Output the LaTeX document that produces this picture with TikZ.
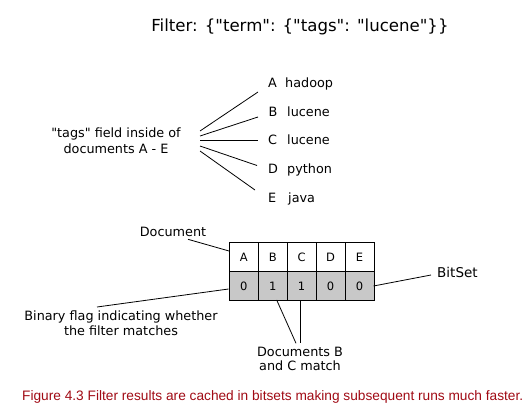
\documentclass[tikz,border=0pt]{standalone}
\usepackage{fontspec}
\setmainfont{DejaVu Sans}[Ligatures=TeXOff]
\newfontfamily\capfont{Liberation Sans}
\definecolor{captred}{RGB}{160,10,20}
\definecolor{flaggray}{RGB}{200,200,200}
\begin{document}
\begin{tikzpicture}[x=1pt,y=-1pt,
  lbl/.style={inner sep=0pt,font=\fontsize{12.8}{16}\selectfont},
  cell/.style={draw=black,line width=0.8pt,minimum width=28.9pt,minimum height=29pt,inner sep=0pt,anchor=north west,font=\fontsize{11.5}{13}\selectfont},
  conn/.style={draw=black,line width=0.8pt}]
\useasboundingbox (0,0) rectangle (532,407);
% title
\node[inner sep=0pt,anchor=base,font=\fontsize{16.6}{20}\selectfont] (title) at (300,31) {Filter: \{"term": \{"tags": "lucene"\}\}};
% tags label
\node[lbl,anchor=base,align=center,font=\fontsize{12.8}{16}\selectfont] (tags) at (116,153) {"tags" field inside of\\documents A - E};
% doc letters and values
\node[lbl,anchor=base west] (lA) at (268,87) {A};
\node[lbl,anchor=base west] (vA) at (285,87) {hadoop};
\node[lbl,anchor=base west] (lB) at (268.5,116) {B};
\node[lbl,anchor=base west] (vB) at (287,116) {lucene};
\node[lbl,anchor=base west] (lC) at (268,144.5) {C};
\node[lbl,anchor=base west] (vC) at (287,144.5) {lucene};
\node[lbl,anchor=base west] (lD) at (268,173) {D};
\node[lbl,anchor=base west] (vD) at (287,173) {python};
\node[lbl,anchor=base west] (lE) at (268,202) {E};
\node[lbl,anchor=base west] (vE) at (288,202) {java};
\coordinate (s1) at (200,131); \coordinate (e1) at (258,92);
\coordinate (s2) at (200,136); \coordinate (e2) at (258,117);
\coordinate (s3) at (200,140.5); \coordinate (e3) at (258,140.5);
\coordinate (s4) at (200,146); \coordinate (e4) at (257,165.5);
\coordinate (s5) at (200,151); \coordinate (e5) at (255,190);
\foreach \i in {1,...,5} {\draw[conn] (s\i) -- (e\i);}
% table
\node[cell,fill=white] (cA) at (229,242) {A};
\node[cell,fill=white] (cB) at (257.9,242) {B};
\node[cell,fill=white] (cC) at (286.8,242) {C};
\node[cell,fill=white] (cD) at (315.7,242) {D};
\node[cell,fill=white] (cE) at (344.6,242) {E};
\node[cell,fill=flaggray] (fA) at (229,271) {0};
\node[cell,fill=flaggray] (fB) at (257.9,271) {1};
\node[cell,fill=flaggray] (fC) at (286.8,271) {1};
\node[cell,fill=flaggray] (fD) at (315.7,271) {0};
\node[cell,fill=flaggray] (fE) at (344.6,271) {0};
% Document label
\node[lbl,anchor=base] (doc) at (173,236.7) {Document};
\coordinate (d1) at (188,239.3);
\coordinate (d2) at (229,251);
\draw[conn] (d1) -- (d2);
% BitSet
\node[lbl,anchor=base west,font=\fontsize{13.5}{16}\selectfont] (bits) at (437,277) {BitSet};
\coordinate (b1) at (373.5,286);
\coordinate (b2) at (431,275);
\draw[conn] (b1) -- (b2);
% Binary flag
\node[lbl,anchor=base,align=center,font=\fontsize{12.8}{15}\selectfont] (flag) at (121,335) {Binary flag indicating whether\\the filter matches};
\coordinate (f1) at (228.5,289);
\coordinate (f2) at (97,307);
\draw[conn] (f1) -- (f2);
% Documents B and C
\node[lbl,anchor=base,align=center,font=\fontsize{12.8}{13.4}\selectfont] (match) at (300,370) {Documents B\\and C match};
\coordinate (m1) at (276.7,300);
\coordinate (m2) at (296,343.3);
\coordinate (m3) at (300.7,300);
\coordinate (m4) at (300.7,343.3);
\draw[conn] (m1) -- (m2);
\draw[conn] (m3) -- (m4);
% caption
\node[inner sep=0pt,anchor=base west,text=captred,font=\capfont\fontsize{13.7}{16}\selectfont] (cap) at (22,400) {Figure 4.3 Filter results are cached in bitsets making subsequent runs much faster.};
\end{tikzpicture}
\end{document}
